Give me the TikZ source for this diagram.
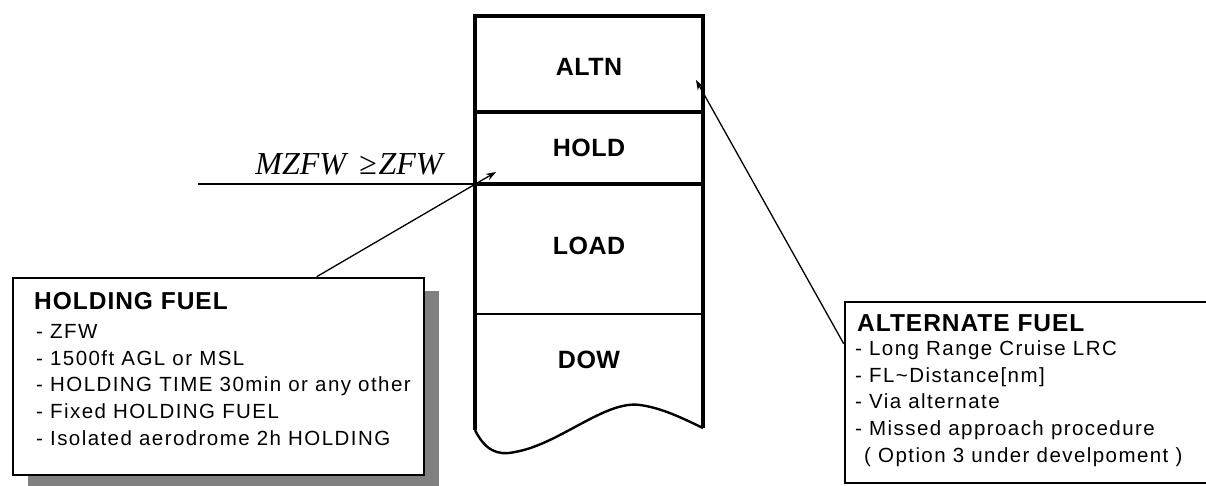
\documentclass[tikz,border=0pt]{standalone}
\usepackage{fontspec}
\setmainfont{Liberation Sans}
\newfontfamily\formfont{Liberation Serif}
\usetikzlibrary{arrows.meta,shadows}
\begin{document}
\begin{tikzpicture}[x=1pt,y=-1pt,
  collabel/.style={font=\fontsize{25}{25}\selectfont\bfseries\addfontfeature{LetterSpace=2}, anchor=base},
  boxtitle/.style={font=\fontsize{24.5}{24.5}\selectfont\bfseries\addfontfeature{LetterSpace=4}, anchor=base west, inner sep=0pt},
  boxline/.style={font=\fontsize{20.5}{20.5}\selectfont\addfontfeature{LetterSpace=7}, anchor=base west, inner sep=0pt},
  infobox/.style={draw=black, line width=2.6pt, fill=white, inner sep=0pt},
  colline/.style={line width=3.2pt},
  thinline/.style={line width=1.2pt},
  arr/.style={line width=1.3pt, -{Stealth[length=10pt,width=7pt]}}
]
\useasboundingbox (0,0) rectangle (1206,485);

% column
\draw[colline, line join=miter] (475,430) -- (475,16) -- (703,16) -- (703,428);
\draw[line width=2.4pt] (475,430) .. controls (485,450) and (497,456) .. (515,452)
   .. controls (560,444) and (605,400) .. (640,405)
   .. controls (662,408) and (682,418) .. (703,428);
\draw[colline] (475,112) -- (703,112);
\draw[colline] (475,184) -- (703,184);
\draw[thinline] (475,314) -- (703,314);

\node[collabel] (altn) at (589,75) {ALTN};
\node[collabel] (hold) at (589,156) {HOLD};
\node[collabel] (load) at (589,254) {LOAD};
\node[collabel] (dow) at (589,368) {DOW};

% ZFW line and formula
\coordinate (zl) at (198,184);
\coordinate (zr) at (475,184);
\draw[thinline] (zl) -- (zr);
\node[anchor=base, inner sep=0pt, font=\formfont\itshape\fontsize{32}{32}\selectfont] (form) at (349,174) {MZFW\hspace{13pt}≥\hspace{2pt}ZFW};

% holding box
\node[infobox, minimum width=411pt, minimum height=197pt,
      drop shadow={shadow xshift=15pt, shadow yshift=-13pt, fill=black!50, opacity=1}]
      (hb) at (218.5,376.5) {};
\node[boxtitle] (hbt) at (34,309) {HOLDING FUEL};
\node[boxline] (hb1) at (36,338.5) {- ZFW};
\node[boxline] (hb2) at (36,365) {- 1500ft AGL or MSL};
\node[boxline] (hb3) at (36,391.5) {- HOLDING TIME 30min or any other};
\node[boxline] (hb4) at (36,418.5) {- Fixed HOLDING FUEL};
\node[boxline] (hb5) at (36,445) {- Isolated aerodrome 2h HOLDING};

% alternate box
\node[infobox, minimum width=372pt, minimum height=181pt] (ab) at (1031,392.5) {};
\node[boxtitle] (abt) at (857,331) {ALTERNATE FUEL};
\node[boxline] (ab1) at (855,355) {- Long Range Cruise LRC};
\node[boxline] (ab2) at (855,382) {- FL\textasciitilde Distance[nm]};
\node[boxline] (ab3) at (855,408) {- Via alternate};
\node[boxline] (ab4) at (855,435) {- Missed approach procedure};
\node[boxline] (ab5) at (855,462) {\hspace{9pt}( Option 3 under develpoment )};

% connectors
\coordinate (holdtip) at (496,172);
\coordinate (altntip) at (696,80);
\draw[arr] ([xshift=305pt]hb.north west) -- (holdtip);
\draw[arr] ([yshift=-43pt]ab.north west) -- (altntip);
\end{tikzpicture}
\end{document}
